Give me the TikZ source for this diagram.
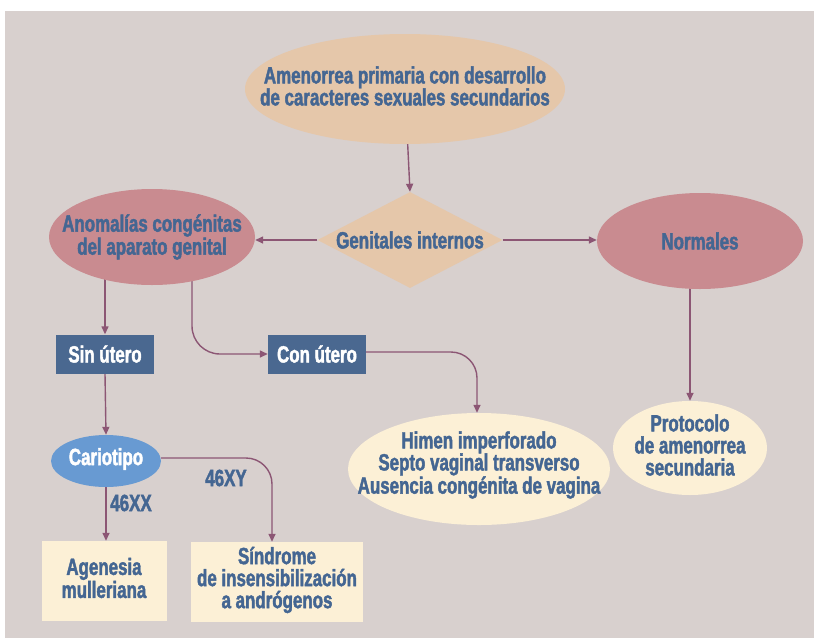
\documentclass[tikz,border=0pt]{standalone}
\usepackage{fontspec}
\setmainfont{Liberation Sans}[FakeStretch=0.72,FakeBold=1.8]
\usetikzlibrary{shapes.geometric,arrows.meta}
\definecolor{bgc}{RGB}{216,208,206}
\definecolor{peach}{RGB}{229,199,170}
\definecolor{rose}{RGB}{201,139,144}
\definecolor{tblue}{RGB}{68,102,146}
\definecolor{dblue}{RGB}{74,104,144}
\definecolor{cblue}{RGB}{104,154,210}
\definecolor{cream}{RGB}{252,240,214}
\definecolor{arc}{RGB}{140,86,116}
\pgfdeclarelayer{back}
\pgfdeclarelayer{bg}
\pgfsetlayers{back,bg,main}
\begin{document}
\begin{tikzpicture}[x=1pt,y=-1pt,
  every node/.style={font=\bfseries\fontsize{23.5}{22}\selectfont, text=tblue, align=center, inner sep=0pt},
  ell/.style={ellipse, draw=none},
  box/.style={rectangle, draw=none},
  conn/.style={draw=arc, line width=1.4pt, -{Triangle[length=8pt,width=7pt]}},
  lbl/.style={text=tblue}]
\useasboundingbox (0,0) rectangle (814,638);
\begin{pgfonlayer}{back}
\fill[white] (0,0) rectangle (814,638);
\fill[bgc] (5,11) rectangle (814,638);
\end{pgfonlayer}

\node[ell, fill=peach, minimum width=320pt, minimum height=110pt] (top) at (405,89) {};
\node (topl) at ([yshift=3pt]top.center) {Amenorrea primaria con desarrollo\\de caracteres sexuales secundarios};
\node[diamond, fill=peach, minimum width=185pt, minimum height=96pt] (gi) at (410,240) {};
\node (gil) at (gi) {Genitales internos};
\node[ell, fill=rose, minimum width=206pt, minimum height=96pt] (anom) at (152,237) {};
\node (anoml) at (anom) {Anomalías congénitas\\del aparato genital};
\node[ell, fill=rose, minimum width=206pt, minimum height=96pt] (norm) at (700,241) {};
\node (norml) at (norm) {Normales};
\node[box, fill=dblue, text=white, minimum width=98pt, minimum height=39pt] (sin) at (105,354) {Sin útero};
\node[box, fill=dblue, text=white, minimum width=98pt, minimum height=39pt] (con) at (317,354) {Con útero};
\node[ell, fill=cream, minimum width=262pt, minimum height=112pt] (himen) at (479,469) {};
\node (himenl) at ([yshift=4pt]himen.center) {Himen imperforado\\Septo vaginal transverso\\Ausencia congénita de vagina};
\node[ell, fill=cream, minimum width=154pt, minimum height=94pt] (proto) at (690,448) {};
\node (protol) at ([yshift=3pt]proto.center) {Protocolo\\de amenorrea\\secundaria};
\node[ell, fill=cblue, minimum width=110pt, minimum height=52pt] (cario) at (106,461) {};
\node[text=white] (cariol) at ([yshift=2pt]cario.center) {Cariotipo};
\node[box, fill=cream, minimum width=125pt, minimum height=80pt] (agen) at (104,581) {};
\node (agenl) at ([yshift=3pt]agen.center) {Agenesia\\mulleriana};
\node[box, fill=cream, minimum width=172pt, minimum height=80pt] (sind) at (277,582) {};
\node (sindl) at ([yshift=2pt]sind.center) {Síndrome\\de insensibilización\\a andrógenos};
\node[lbl] (lxx) at (131,503) {46XX};
\node[lbl] (lxy) at (226,478) {46XY};

\begin{pgfonlayer}{bg}
\draw[conn] (top) -- (gi.north);
\draw[conn] (gi.west) -- (gi.west -| anom.east);
\draw[conn] (gi.east) -- (gi.east -| norm.west);
\draw[conn] (anom.center -| sin.north) -- (sin.north);
\draw[conn, rounded corners=28pt] ([xshift=40pt]anom.center) |- (con.west);
\draw[conn, rounded corners=26pt] ([yshift=2pt]con.east) -| ([xshift=-2pt]himen.north);
\draw[conn] (norm.center -| proto.north) -- (proto.north);
\draw[conn] (sin.south) -- (cario.north);
\draw[conn] (cario.south) -- (cario.south |- agen.north);
\draw[conn, rounded corners=26pt] ([yshift=3pt]cario.east) -| ([xshift=-5pt]sind.north);
\end{pgfonlayer}
\end{tikzpicture}
\end{document}
